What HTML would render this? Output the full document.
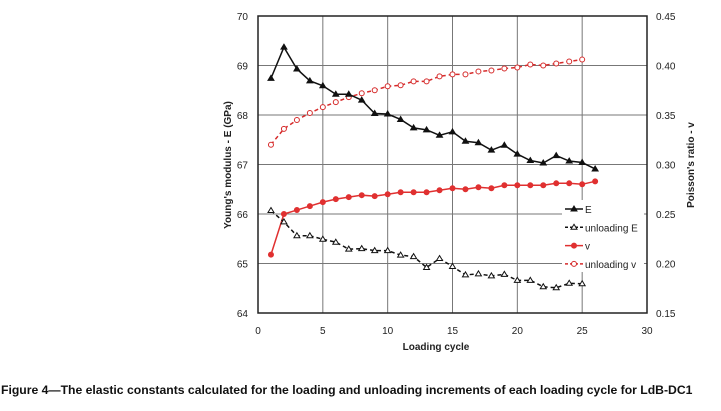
<!DOCTYPE html>
<html><head><meta charset="utf-8"><style>
body{margin:0;background:#fff;width:721px;height:406px;overflow:hidden;font-family:"Liberation Sans",sans-serif}
</style></head><body>
<svg id="c" width="721" height="406" font-family="Liberation Sans, sans-serif"></svg>
<script>
const cycles=[1,2,3,4,5,6,7,8,9,10,11,12,13,14,15,16,17,18,19,20,21,22,23,24,25,26];
const loadE=[68.74,69.37,68.93,68.69,68.59,68.42,68.42,68.30,68.03,68.02,67.91,67.74,67.70,67.59,67.66,67.47,67.44,67.29,67.39,67.21,67.08,67.03,67.18,67.07,67.04,66.91];
const unloadE=[66.07,65.84,65.56,65.56,65.49,65.43,65.29,65.30,65.26,65.26,65.17,65.14,64.92,65.10,64.94,64.77,64.79,64.75,64.78,64.66,64.66,64.53,64.51,64.60,64.59];
const loadV=[0.209,0.250,0.254,0.258,0.262,0.265,0.267,0.269,0.268,0.270,0.272,0.272,0.272,0.274,0.276,0.275,0.277,0.276,0.279,0.279,0.279,0.279,0.281,0.281,0.280,0.283];
const unloadV=[0.320,0.336,0.345,0.352,0.358,0.363,0.368,0.372,0.375,0.379,0.380,0.384,0.384,0.389,0.391,0.391,0.394,0.395,0.397,0.398,0.401,0.400,0.402,0.404,0.406];
const xTicks=[0,5,10,15,20,25,30];
const yTicks=[64,65,66,67,68,69,70];
const y2Ticks=["0.15","0.20","0.25","0.30","0.35","0.40","0.45"];
const X0=258,X1=647,T=16,B=313;
const sx=v=>X0+(v-0)/30*(X1-X0);
const sy=v=>B-(v-64)/6*(B-T);
const sy2=v=>B-(v-0.15)/0.3*(B-T);
const svg=document.getElementById('c');const NS='http://www.w3.org/2000/svg';
function mk(t,a,p){const e=document.createElementNS(NS,t);for(const k in a)e.setAttribute(k,a[k]);(p||svg).appendChild(e);return e;}
// grid
xTicks.forEach((t,i)=>{if(i>0&&i<xTicks.length-1){const l=mk('line',{x1:sx(t),x2:sx(t),y1:T,y2:B,stroke:'#777','stroke-width':1});

}
const tx=mk('text',{x:sx(t),y:334,'text-anchor':'middle','font-size':10,fill:'#222'});tx.textContent=t;

});
yTicks.forEach((t,i)=>{if(i>0&&i<yTicks.length-1){const l=mk('line',{x1:X0,x2:X1,y1:sy(t),y2:sy(t),stroke:'#777','stroke-width':1});

}
const tx=mk('text',{x:248,y:sy(t)+4,'text-anchor':'end','font-size':10,fill:'#222'});tx.textContent=t;


const t2=mk('text',{x:656,y:sy(t)+4,'font-size':10,fill:'#222'});t2.textContent=y2Ticks[i];

});
const fr=mk('rect',{x:X0,y:T,width:X1-X0,height:B-T,fill:'none',stroke:'#222','stroke-width':1.5});


function series(xs,ys,f,col,dash,marker,name){
const g=mk('g',{});


const pts=ys.map((v,i)=>sx(xs[i])+','+f(v)).join(' ');
mk('polyline',{points:pts,fill:'none',stroke:col,'stroke-width':1.5,'stroke-dasharray':dash},g);
ys.forEach((v,i)=>{const x=sx(xs[i]),y=f(v);
if(marker=='tri')mk('path',{d:`M${x} ${y-3}L${x+3} ${y+2}L${x-3} ${y+2}Z`,fill:dash?'#fff':col,stroke:col,'stroke-width':1},g);
else mk('circle',{cx:x,cy:y,r:2.5,fill:dash?'#fff':col,stroke:col,'stroke-width':1},g);});}
series(cycles,unloadV,sy2,'#d62b2b','4 3','circ','series-unloading-v');
series(cycles,loadV,sy2,'#e03030','','circ','series-v');
series(cycles,unloadE,sy,'#111','4 3','tri','series-unloading-E');
series(cycles,loadE,sy,'#111','','tri','series-E');
// legend
const lg=mk('g',{});


mk('rect',{x:562,y:200,width:82,height:72,fill:'#fff'},lg);
[['E','#111','','tri'],['unloading E','#111','3 2','tri'],['v','#e03030','','circ'],['unloading v','#d62b2b','3 2','circ']].forEach((d,i)=>{
const y=209+i*18.3;
mk('line',{x1:565,x2:583,y1:y,y2:y,stroke:d[1],'stroke-width':1.5,'stroke-dasharray':d[2]},lg);
if(d[3]=='tri')mk('path',{d:`M574 ${y-3}L577 ${y+2}L571 ${y+2}Z`,fill:i%2?'#fff':d[1],stroke:d[1]},lg);
else mk('circle',{cx:574,cy:y,r:2.5,fill:i%2?'#fff':d[1],stroke:d[1]},lg);
const t=mk('text',{x:585,y:y+4,'font-size':10,fill:'#222'},lg);t.textContent=d[0];});
let t=mk('text',{x:436,y:350,'text-anchor':'middle','font-size':10,'font-weight':'bold',fill:'#222'});t.textContent='Loading cycle';


t=mk('text',{x:0,y:0,transform:'translate(231,165) rotate(-90)','text-anchor':'middle','font-size':10,'font-weight':'bold',fill:'#222'});t.textContent="Young's modulus - E (GPa)";


t=mk('text',{x:0,y:0,transform:'translate(694,165) rotate(-90)','text-anchor':'middle','font-size':10,'font-weight':'bold',fill:'#222'});t.textContent="Poisson's ratio - v";


t=mk('text',{x:1,y:394,'font-size':12.2,'font-weight':'bold',fill:'#111'});t.textContent='Figure 4—The elastic constants calculated for the loading and unloading increments of each loading cycle for LdB-DC1';


</script>
</body></html>
